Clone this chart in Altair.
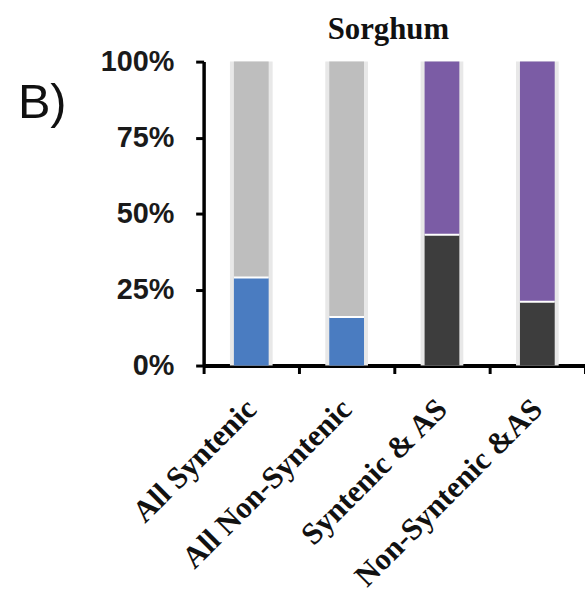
import altair as alt
import pandas as pd

categories = ["All Syntenic", "All Non-Syntenic", "Syntenic & AS", "Non-Syntenic &AS"]
bottom_pct = [29, 16, 43, 21]
bottom_group = ["Blue", "Blue", "Dark", "Dark"]
top_group = ["Gray", "Gray", "Purple", "Purple"]
group_names = ["Blue", "Gray", "Dark", "Purple"]
group_colors = ["#4a7cc1", "#bebebe", "#3d3d3d", "#7b5ca5"]
y_ticks = [0, 25, 50, 75, 100]
title_text = ["Sorghum"]
panel_text = ["B)"]

rows = []
for c, b, bg, tg in zip(categories, bottom_pct, bottom_group, top_group):
    rows.append({"category": c, "group": bg, "value": b, "order": 0})
    rows.append({"category": c, "group": tg, "value": 100 - b, "order": 1})
df = pd.DataFrame(rows)
bounds = pd.DataFrame({"category": categories, "value": bottom_pct})
panel_label = pd.DataFrame({"t": panel_text})
title_df = pd.DataFrame({"t": title_text})

x_enc = alt.X(
    "category:N",
    sort=categories,
    scale=alt.Scale(paddingInner=0, paddingOuter=0),
    axis=alt.Axis(
        title=None,
        labelAngle=-45,
        labelAlign="right",
        labelBaseline="middle",
        labelFont="Liberation Serif",
        labelFontWeight="bold",
        labelFontSize=31,
        labelColor="#111111",
        labelLimit=500,
        labelPadding=31,
        domainColor="#000000",
        domainWidth=4,
        tickColor="#000000",
        tickWidth=3,
        tickSize=8,
        tickBand="extent",
    ),
)

y_axis = alt.Axis(
    title=None,
    values=y_ticks,
    labelExpr="datum.value + '%'",
    grid=False,
    labelFont="Liberation Sans",
    labelFontWeight="bold",
    labelFontSize=29,
    labelColor="#1a1a1a",
    labelPadding=22,
    domainColor="#000000",
    domainWidth=3.5,
    tickColor="#000000",
    tickWidth=3,
    tickSize=8,
)
y_scale = alt.Scale(domain=[0, 100], nice=False)

halo = alt.Chart(df).mark_bar(size=43, color="#e8e8e8").encode(
    x=x_enc,
    y=alt.Y("sum(value):Q", scale=y_scale, axis=y_axis),
)

bars = alt.Chart(df).mark_bar(size=35).encode(
    x=x_enc,
    y=alt.Y("value:Q", stack="zero", scale=y_scale, axis=y_axis),
    color=alt.Color(
        "group:N",
        scale=alt.Scale(domain=group_names, range=group_colors),
        legend=None,
    ),
    order=alt.Order("order:Q"),
)

seps = alt.Chart(bounds).mark_tick(color="white", thickness=2, size=35, opacity=1).encode(
    x=x_enc,
    y=alt.Y("value:Q", scale=y_scale, axis=y_axis),
)

blabel = alt.Chart(panel_label).mark_text(
    font="Liberation Sans", fontSize=49, align="left", baseline="alphabetic", color="#111111"
).encode(
    text="t:N",
    x=alt.value(-187),
    y=alt.value(57),
)

title_mark = alt.Chart(title_df).mark_text(
    font="Liberation Serif", fontSize=31, fontWeight="bold", align="center",
    baseline="alphabetic", color="#111111"
).encode(
    text="t:N",
    x=alt.value(186),
    y=alt.value(-23),
)

chart = (
    alt.layer(halo, bars, seps, blabel, title_mark)
    .properties(
        width=384,
        height=306,
        autosize=alt.AutoSizeParams(type="none"),
        padding={"left": 205, "top": 60, "right": 0, "bottom": 228},
    )
    .configure_view(stroke=None)
)

chart.save("out.html", embed_options={"renderer": "svg", "actions": False})
